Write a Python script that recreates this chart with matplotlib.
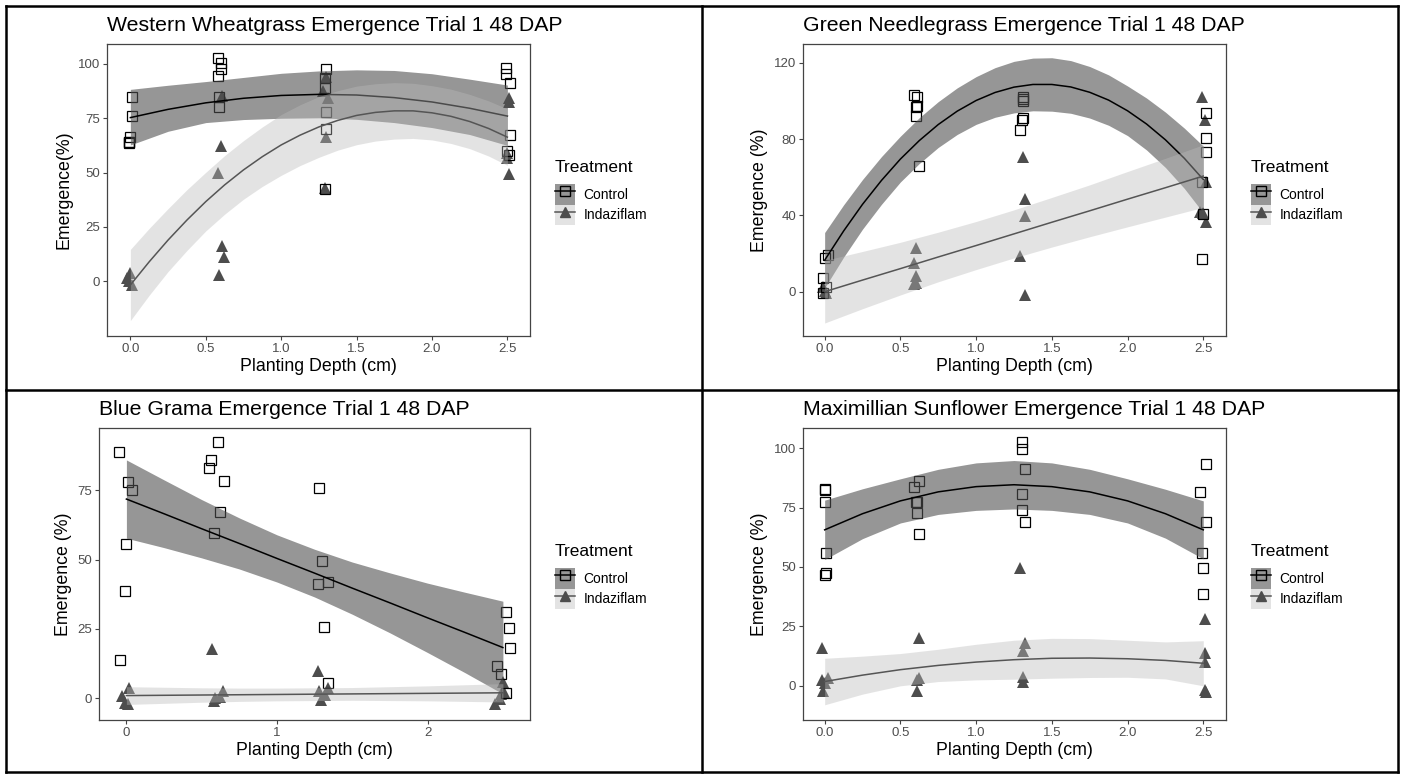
import matplotlib
matplotlib.use("Agg")
import matplotlib.pyplot as plt
from matplotlib.patches import Patch
from matplotlib.lines import Line2D
from matplotlib.legend_handler import HandlerTuple

plt.rcParams['font.family'] = ['Liberation Sans', 'DejaVu Sans']

# depths where the fitted curves and their confidence bands are evaluated
depth_grid = [0.0, 0.25, 0.5, 0.75, 1.0, 1.25, 1.5, 1.75, 2.0, 2.25, 2.5]
depth_fine = [0.0, 0.125, 0.25, 0.375, 0.5, 0.625, 0.75, 0.875, 1.0, 1.125, 1.25,
              1.375, 1.5, 1.625, 1.75, 1.875, 2.0, 2.125, 2.25, 2.375, 2.5]

# Western Wheatgrass
ww_ctrl_x = [0.01, 0.01, 0.0, -0.01, -0.01, -0.01, 0.58, 0.60, 0.60, 0.58, 0.59, 0.59,
             1.30, 1.29, 1.29, 1.30, 1.30, 1.29, 2.49, 2.49, 2.52, 2.52, 2.50, 2.51]
ww_ctrl_y = [84.6, 76.2, 66.5, 64.2, 63.7, 63.9, 102.6, 100.6, 97.5, 94.5, 84.6, 80.3,
             97.8, 93.7, 89.1, 77.7, 69.9, 42.4, 98.0, 95.2, 91.4, 67.4, 60.0, 57.9]
ww_ind_x = [-0.02, 0.0, 0.01, -0.01, 0.61, 0.60, 0.58, 0.61, 0.62, 0.59,
            1.30, 1.28, 1.31, 1.30, 1.29, 2.51, 2.51, 2.50, 2.50, 2.51]
ww_ind_y = [1.2, 3.5, -1.8, 0.0, 85.3, 62.2, 49.9, 16.1, 11.2, 2.8,
            93.9, 87.7, 84.2, 66.2, 42.7, 84.2, 82.6, 58.8, 56.5, 49.3]
ww_ctrl_fit = [75.3, 79.1, 82.1, 84.2, 85.5, 86.0, 85.7, 84.5, 82.5, 79.6, 76.0]
ww_ctrl_hi = [88.3, 90.2, 91.9, 93.8, 95.7, 96.8, 97.3, 97.0, 95.5, 93.0, 90.3]
ww_ctrl_lo = [62.7, 69.0, 73.0, 74.4, 75.0, 75.2, 74.5, 73.0, 70.7, 67.5, 62.5]
ww_ind_fit = [-1.8, 8.9, 18.9, 28.1, 36.6, 44.3, 51.2, 57.3, 62.7, 67.2, 71.0,
              74.0, 76.3, 77.7, 78.4, 78.4, 77.5, 75.9, 73.5, 70.3, 66.3]
ww_ind_hi = [14.6, 24.3, 33.4, 42.1, 50.1, 57.8, 64.7, 71.0, 76.7, 81.2, 85.0,
             87.7, 89.8, 90.9, 91.4, 91.1, 90.0, 88.4, 86.0, 83.0, 79.3]
ww_ind_lo = [-18.2, -6.5, 4.4, 14.1, 23.1, 30.8, 37.7, 43.6, 48.7, 53.2, 57.0,
             60.3, 62.8, 64.5, 65.4, 65.7, 65.0, 63.4, 61.0, 57.6, 53.3]

# Green Needlegrass
gn_ctrl_x = [-0.01, 0.01, -0.01, 0.0, 0.02, 0.59, 0.61, 0.61, 0.60, 0.60, 0.62,
             1.31, 1.31, 1.31, 1.30, 1.31, 1.29, 2.52, 2.52, 2.52, 2.49, 2.50, 2.49]
gn_ctrl_y = [-0.9, 2.6, 7.3, 17.5, 19.2, 103.0, 101.8, 97.5, 96.8, 92.2, 66.0,
             101.8, 100.8, 100.1, 90.0, 90.8, 85.0, 93.4, 80.7, 73.0, 57.6, 40.7, 17.1]
gn_ind_x = [-0.01, 0.01, 0.0, 0.60, 0.59, 0.60, 0.60, 0.59, 1.31, 1.32, 1.32, 1.29, 1.32,
            2.49, 2.51, 2.52, 2.48, 2.50, 2.52]
gn_ind_y = [2.6, -0.9, 0.5, 22.7, 15.2, 8.4, 4.4, 3.8, 70.4, 48.6, 39.8, 18.9, -1.7,
            101.8, 90.0, 57.6, 41.9, 41.0, 36.7]
gn_ctrl_fit = [16.5, 31.8, 45.8, 58.3, 69.5, 79.2, 87.6, 94.6, 100.2, 104.4, 107.2,
               108.6, 108.6, 107.3, 104.5, 100.4, 94.8, 87.9, 79.6, 69.9, 58.8]
gn_ctrl_hi = [31.0, 45.5, 58.8, 70.8, 81.5, 91.2, 99.6, 106.8, 112.7, 117.4, 120.7,
              122.4, 122.6, 121.1, 118.0, 113.6, 107.8, 101.5, 94.1, 85.7, 76.3]
gn_ctrl_lo = [2.0, 18.1, 32.8, 45.8, 57.5, 67.2, 75.6, 82.4, 87.7, 91.4, 93.7,
              94.8, 94.6, 93.5, 91.0, 87.2, 81.8, 74.3, 65.1, 54.1, 41.3]
gn_ind_fit = [0.0, 6.1, 12.1, 18.2, 24.2, 30.3, 36.4, 42.4, 48.5, 54.5, 60.6]
gn_ind_hi = [16.4, 21.1, 25.9, 31.2, 36.8, 42.9, 49.4, 56.0, 63.0, 69.9, 77.0]
gn_ind_lo = [-16.4, -8.9, -1.7, 5.2, 11.6, 17.7, 23.4, 28.8, 34.0, 39.1, 44.2]

# Blue Grama
bg_ctrl_x = [-0.05, 0.01, 0.04, 0.0, -0.01, -0.04, 0.61, 0.56, 0.55, 0.65, 0.62, 0.58,
             1.28, 1.30, 1.27, 1.34, 1.31, 1.34, 2.52, 2.54, 2.55, 2.46, 2.49, 2.52]
bg_ctrl_y = [88.7, 78.1, 74.9, 55.5, 38.6, 13.9, 92.3, 85.7, 82.9, 78.4, 67.2, 59.6,
             75.8, 49.4, 41.2, 41.8, 25.6, 5.4, 31.0, 25.4, 18.0, 11.8, 8.9, 1.8]
bg_ind_x = [-0.03, -0.01, 0.01, 0.02, 0.57, 0.58, 0.62, 0.64, 0.59,
            1.27, 1.28, 1.29, 1.32, 1.34, 2.50, 2.48, 2.45, 2.51, 2.49]
bg_ind_y = [1.0, -1.8, -2.2, 3.8, 17.8, -1.0, 0.6, 2.8, 0.2,
            10.0, 2.8, -0.6, 1.2, 3.6, 6.0, -0.4, -2.2, 2.4, 1.4]
bg_ctrl_fit = [71.8, 66.5, 61.1, 55.8, 50.4, 45.1, 39.7, 34.4, 29.0, 23.7, 18.3]
bg_ctrl_hi = [85.9, 78.7, 71.6, 65.0, 58.9, 53.7, 49.1, 45.2, 41.5, 38.2, 35.0]
bg_ctrl_lo = [57.7, 54.3, 50.6, 46.6, 41.9, 36.5, 30.3, 23.6, 16.5, 9.2, 1.6]
bg_ind_fit = [1.0, 1.1, 1.2, 1.3, 1.4, 1.5, 1.6, 1.7, 1.8, 1.9, 2.0]
bg_ind_hi = [4.2, 4.0, 3.8, 3.7, 3.7, 3.8, 3.9, 4.2, 4.5, 4.9, 5.3]
bg_ind_lo = [-2.2, -1.8, -1.4, -1.1, -0.9, -0.8, -0.7, -0.8, -0.9, -1.1, -1.3]

# Maximillian Sunflower
ms_ctrl_x = [0.0, 0.0, 0.0, 0.01, 0.01, 0.0, 0.62, 0.59, 0.60, 0.61, 0.61, 0.62,
             1.30, 1.30, 1.32, 1.30, 1.30, 1.32, 2.52, 2.48, 2.52, 2.49, 2.50, 2.50]
ms_ctrl_y = [82.4, 82.7, 77.2, 55.8, 47.6, 46.6, 86.0, 83.6, 77.5, 77.2, 72.9, 63.9,
             102.5, 99.6, 91.3, 80.9, 73.9, 68.7, 93.3, 81.5, 68.7, 56.0, 49.6, 38.5]
ms_ind_x = [-0.02, -0.02, -0.01, 0.02, 0.0, 0.62, 0.61, 0.62, 0.61,
            1.29, 1.32, 1.31, 1.31, 1.31, 2.51, 2.51, 2.51, 2.51, 2.52]
ms_ind_y = [16.0, 2.4, -2.2, 3.1, 1.0, 20.2, 2.4, 3.4, -2.2,
            49.4, 18.1, 14.6, 3.8, 1.7, 28.0, 13.9, 9.8, -1.8, -2.5]
ms_ctrl_fit = [65.6, 72.4, 77.8, 81.6, 83.8, 84.6, 83.8, 81.6, 77.8, 72.4, 65.6]
ms_ctrl_hi = [78.1, 82.9, 87.1, 91.1, 93.8, 94.8, 93.8, 91.1, 87.1, 82.7, 77.8]
ms_ctrl_lo = [53.1, 61.9, 68.5, 72.1, 73.8, 74.4, 73.8, 72.1, 68.5, 62.1, 53.4]
ms_ind_fit = [1.7, 4.4, 6.7, 8.5, 9.9, 10.9, 11.5, 11.6, 11.3, 10.6, 9.4]
ms_ind_hi = [11.5, 12.4, 13.5, 15.3, 17.4, 19.1, 19.9, 19.8, 19.1, 18.4, 18.9]
ms_ind_lo = [-8.1, -3.6, -0.1, 1.7, 2.4, 2.7, 3.1, 3.4, 3.5, 2.8, -0.1]

W, H = 1403, 774
CTRL_FILL, CTRL_ALPHA = '#505050', 0.6
IND_FILL, IND_ALPHA = '#bbbbbb', 0.4
TRI_COLOR = '#4d4d4d'
IND_LINE = '#555555'

fig = plt.figure(figsize=(W / 100, H / 100), dpi=100)


def box(left, top, right, bottom):
    return [left / W, 1 - bottom / H, (right - left) / W, (bottom - top) / H]


def panel(rect, title, ylabel, ctrl, ind, xlim, ylim, xticks, xlabels, yticks, legend_xy):
    ax = fig.add_axes(box(*rect))
    cx, cy, cgrid, cfit, chi, clo = ctrl
    ix, iy, igrid, ifit, ihi, ilo = ind
    ax.plot(ix, iy, '^', color=TRI_COLOR, ms=8, mew=0, zorder=2)
    ax.plot(cx, cy, 's', mfc='none', mec='black', ms=7, mew=0.9, zorder=2)
    ax.fill_between(cgrid, clo, chi, color=CTRL_FILL, alpha=CTRL_ALPHA, lw=0, zorder=3)
    ax.plot(cgrid, cfit, color='black', lw=1.1, zorder=4)
    ax.fill_between(igrid, ilo, ihi, color=IND_FILL, alpha=IND_ALPHA, lw=0, zorder=5)
    ax.plot(igrid, ifit, color=IND_LINE, lw=1.1, zorder=6)

    ax.set_xlim(*xlim)
    ax.set_ylim(*ylim)
    ax.set_xticks(xticks)
    ax.set_xticklabels(xlabels)
    ax.set_yticks(yticks)
    for s in ax.spines.values():
        s.set_color('#444444')
        s.set_linewidth(0.9)
    ax.tick_params(length=3, width=0.8, color='#444444', labelcolor='#4d4d4d',
                   labelsize=9.5, pad=2)
    ax.set_xlabel('Planting Depth (cm)', fontsize=12.8, labelpad=2)
    ax.set_ylabel(ylabel, fontsize=12.8, labelpad=4)
    fig.text(rect[0] / W, 1 - (rect[1] - 13) / H, title, fontsize=15.3, va='baseline')

    # legend: title as its own text, keys stacked right under it
    lx, ly = legend_xy
    fig.text(lx / W, 1 - ly / H, 'Treatment', fontsize=12.5, va='center')
    handles = [
        (Patch(fc=CTRL_FILL, alpha=CTRL_ALPHA, ec='none'),
         Line2D([], [], color='black', lw=1.1, marker='s', mfc='none', mec='black', ms=7)),
        (Patch(fc=IND_FILL, alpha=IND_ALPHA, ec='none'),
         Line2D([], [], color=IND_LINE, lw=1.1, marker='^', mfc=TRI_COLOR, mec=TRI_COLOR, ms=7)),
    ]
    ax.legend(handles, ['Control', 'Indaziflam'],
              handler_map={tuple: HandlerTuple(ndivide=1)},
              loc='upper left', bbox_to_anchor=(lx / W, 1 - (ly + 17) / H),
              bbox_transform=fig.transFigure, frameon=False, fontsize=10,
              handlelength=1.45, handleheight=1.9,
              handletextpad=0.6, labelspacing=0.0, borderpad=0, borderaxespad=0)
    return ax


depth_ticks = [0.0, 0.5, 1.0, 1.5, 2.0, 2.5]
depth_labels = ['0.0', '0.5', '1.0', '1.5', '2.0', '2.5']

panel((107, 44, 530, 336), 'Western Wheatgrass Emergence Trial 1 48 DAP', 'Emergence(%)',
      (ww_ctrl_x, ww_ctrl_y, depth_grid, ww_ctrl_fit, ww_ctrl_hi, ww_ctrl_lo),
      (ww_ind_x, ww_ind_y, depth_fine, ww_ind_fit, ww_ind_hi, ww_ind_lo),
      (-0.155, 2.65), (-25.3, 109.2), depth_ticks, depth_labels, [0, 25, 50, 75, 100],
      (555, 167))
panel((803, 44, 1226, 336), 'Green Needlegrass Emergence Trial 1 48 DAP', 'Emergence (%)',
      (gn_ctrl_x, gn_ctrl_y, depth_fine, gn_ctrl_fit, gn_ctrl_hi, gn_ctrl_lo),
      (gn_ind_x, gn_ind_y, depth_grid, gn_ind_fit, gn_ind_hi, gn_ind_lo),
      (-0.143, 2.65), (-23.2, 129.8), depth_ticks, depth_labels, [0, 40, 80, 120],
      (1251, 167))
panel((99, 428, 530, 720), 'Blue Grama Emergence Trial 1 48 DAP', 'Emergence (%)',
      (bg_ctrl_x, bg_ctrl_y, depth_grid, bg_ctrl_fit, bg_ctrl_hi, bg_ctrl_lo),
      (bg_ind_x, bg_ind_y, depth_grid, bg_ind_fit, bg_ind_hi, bg_ind_lo),
      (-0.182, 2.68), (-7.8, 97.4), [0, 1, 2], ['0', '1', '2'], [0, 25, 50, 75],
      (555, 551))
panel((803, 428, 1226, 720), 'Maximillian Sunflower Emergence Trial 1 48 DAP', 'Emergence (%)',
      (ms_ctrl_x, ms_ctrl_y, depth_grid, ms_ctrl_fit, ms_ctrl_hi, ms_ctrl_lo),
      (ms_ind_x, ms_ind_y, depth_grid, ms_ind_fit, ms_ind_hi, ms_ind_lo),
      (-0.143, 2.65), (-14.5, 108.5), depth_ticks, depth_labels, [0, 25, 50, 75, 100],
      (1251, 551))

# black frame around the four plots
frame = [((6, 6), (1398, 6)), ((6, 772), (1398, 772)), ((6, 6), (6, 772)),
         ((1398, 6), (1398, 772)), ((702, 6), (702, 772)), ((6, 390), (1398, 390))]
for (x0, y0), (x1, y1) in frame:
    fig.add_artist(Line2D([x0 / W, x1 / W], [1 - y0 / H, 1 - y1 / H],
                          transform=fig.transFigure, color='black', lw=1.8))

fig.savefig('out.png', dpi=100)
